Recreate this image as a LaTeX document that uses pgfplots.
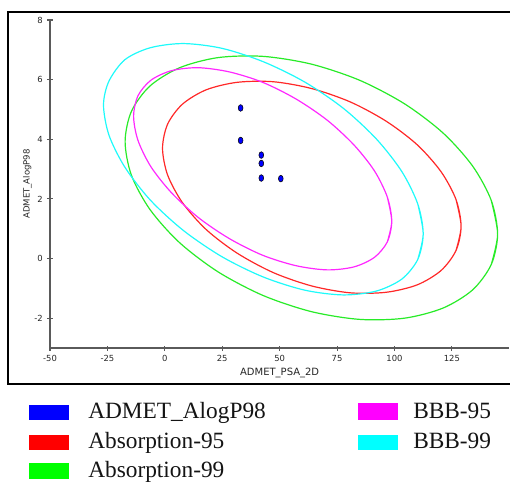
\documentclass[border=0pt]{standalone}
\usepackage{fontspec}
\setmainfont{Liberation Serif}
\newfontfamily\labelfont{DejaVu Sans}
\usepackage{pgfplots}
\pgfplotsset{compat=1.18}
\definecolor{ptblue}{RGB}{0,0,255}
\definecolor{absred}{RGB}{255,40,40}
\definecolor{absgreen}{RGB}{40,235,40}
\definecolor{bbbmag}{RGB}{255,40,255}
\definecolor{bbbcyan}{RGB}{30,250,250}
\definecolor{swred}{RGB}{255,0,0}
\definecolor{swgreen}{RGB}{0,255,0}
\definecolor{swmag}{RGB}{255,0,255}
\definecolor{swcyan}{RGB}{0,255,255}
\definecolor{axisgray}{HTML}{5A5A5A}

\begin{document}
\begin{tikzpicture}
% page = 510x482 px of the reference, 1px = 0.75pt
\useasboundingbox (0,0) rectangle (382.5pt,361.5pt);

\begin{axis}[
    at={(37.5pt,100.5pt)}, anchor=south west,
    scale only axis, width=344.5pt, height=246pt,
    xmin=-50, xmax=150, ymin=-3, ymax=8,
    axis x line=bottom, axis y line=left,
    axis line style={-, draw=axisgray, line width=1.1pt},
    xtick={-50,-25,0,25,50,75,100,125},
    ytick={-2,0,2,4,6,8},
    minor tick num=0,
    tick align=center,
    major tick length=3.75pt,
    tick style={axisgray, line width=0.8pt},
    ticklabel style={font=\labelfont\fontsize{6.3}{7}\selectfont, text=black!85},
    /pgf/number format/assume math mode=true,
    xlabel={ADMET\_PSA\_2D},
    ylabel={ADMET\_AlogP98},
    xlabel style={font=\labelfont\fontsize{7.5}{9}\selectfont, text=black!85,
        at={(axis description cs:0.5,-0.075)}, anchor=center},
    ylabel style={font=\labelfont\fontsize{6.4}{8}\selectfont, text=black!85,
        at={(axis description cs:-0.049,0.5)}, anchor=center},
]
% Absorption-99
\addplot[absgreen, line width=0.9pt, smooth] coordinates {
(142.13,1.95) (144.90,0.82) (142.13,-0.20) (134.03,-1.05) (121.15,-1.66) (104.35,-2.00)
(84.79,-2.04) (63.80,-1.78) (42.81,-1.24) (23.25,-0.45) (6.45,0.53) (-6.43,1.64)
(-14.53,2.79) (-17.30,3.92) (-14.53,4.94) (-6.43,5.79) (6.45,6.40) (23.25,6.74)
(42.81,6.78) (63.80,6.52) (84.79,5.98) (104.35,5.19) (121.15,4.21) (134.03,3.10)
(142.13,1.95) (144.90,0.82) (142.13,-0.20)
};
% Absorption-95
\addplot[absred, line width=0.9pt, smooth] coordinates {
(126.78,1.98) (129.00,1.08) (126.78,0.27) (120.29,-0.40) (109.96,-0.88) (96.50,-1.13)
(80.82,-1.15) (64.00,-0.92) (47.18,-0.47) (31.50,0.18) (18.04,0.97) (7.71,1.87)
(1.22,2.80) (-1.00,3.70) (1.22,4.51) (7.71,5.18) (18.04,5.66) (31.50,5.91)
(47.18,5.93) (64.00,5.70) (80.82,5.25) (96.50,4.60) (109.96,3.81) (120.29,2.91)
(126.78,1.98) (129.00,1.08) (126.78,0.27)
};
% BBB-99
\addplot[bbbcyan, line width=0.9pt, smooth] coordinates {
(110.13,1.83) (112.50,0.83) (110.13,-0.03) (103.17,-0.69) (92.11,-1.09) (77.70,-1.22)
(60.91,-1.06) (42.90,-0.62) (24.89,0.06) (8.10,0.94) (-6.31,1.96) (-17.37,3.06)
(-24.33,4.14) (-26.70,5.15) (-24.33,5.95) (-17.37,6.67) (-6.31,7.07) (8.10,7.21)
(24.89,7.05) (42.90,6.60) (60.91,5.92) (77.70,5.04) (92.11,4.01) (103.17,2.92)
(110.13,1.83) (112.50,0.83) (110.13,-0.03)
};
% BBB-95
\addplot[bbbmag, line width=0.9pt, smooth] coordinates {
(96.88,2.06) (98.80,1.25) (96.88,0.56) (91.27,0.04) (82.34,-0.28) (70.70,-0.38)
(57.14,-0.24) (42.60,0.11) (28.06,0.67) (14.50,1.38) (2.86,2.21) (-6.07,3.08)
(-11.68,3.96) (-13.60,4.77) (-11.68,5.46) (-6.07,5.98) (2.86,6.30) (14.50,6.40)
(28.06,6.26) (42.60,5.91) (57.14,5.35) (70.70,4.64) (82.34,3.81) (91.27,2.94)
(96.88,2.06) (98.80,1.25) (96.88,0.56)
};
% ADMET_AlogP98 compounds
\addplot[only marks, mark=*, mark size=2.5pt,
    mark options={xscale=0.72, draw=none, fill=ptblue}] coordinates {
(33,5.05) (33,3.96) (42,3.47) (42,3.19) (42,2.70) (50.5,2.68)
};
\end{axis}

\begin{scope}[x=0.75pt,y=0.75pt]
\draw[line width=1.5pt] (8,470) rectangle (520,98);
% legend
\fill[ptblue]  (29,77) rectangle (69,62);
\fill[swred]   (29,47) rectangle (69,32);
\fill[swgreen] (29,19) rectangle (69,3);
\fill[swmag]   (358,79) rectangle (398,62);
\fill[swcyan]  (358,47) rectangle (398,32);
\begin{scope}[every node/.style={anchor=base west, inner sep=0pt,
    font=\fontsize{17.5}{20}\selectfont, text=black!92}]
\node at (88,64) {ADMET\_AlogP98};
\node at (88,34) {Absorption-95};
\node at (88,5)  {Absorption-99};
\node at (413,64) {BBB-95};
\node at (413,34) {BBB-99};
\end{scope}
\end{scope}
\end{tikzpicture}
\end{document}
